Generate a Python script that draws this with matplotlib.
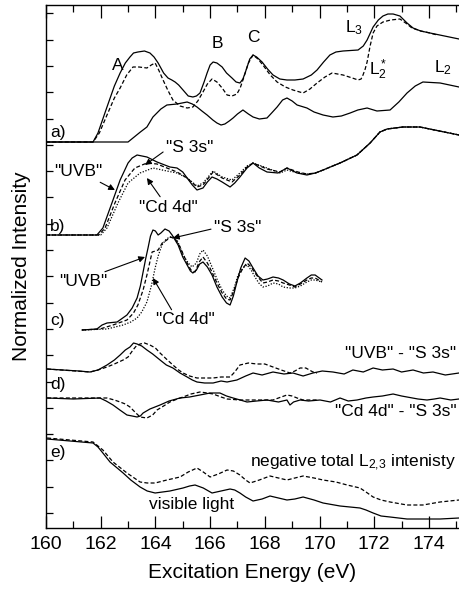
import numpy as np
import matplotlib
matplotlib.use('Agg')
import matplotlib.pyplot as plt

plt.rcParams['font.family'] = ['Liberation Sans', 'DejaVu Sans']
plt.rcParams['mathtext.fontset'] = 'custom'
plt.rcParams['mathtext.rm'] = 'Liberation Sans'
plt.rcParams['mathtext.it'] = 'Liberation Sans'

# a) L3 / L2* / L2 spectra
a_l3_x = [160.0, 161.72, 161.9, 162.23, 162.5, 162.71, 162.9, 163.07, 163.2, 163.36, 163.6, 163.80,
          163.95, 164.10, 164.3, 164.46, 164.6, 164.72, 164.85, 165.01, 165.2, 165.37, 165.5, 165.63,
          165.78, 165.89, 166.0, 166.11, 166.25, 166.44, 166.6, 166.80, 166.95, 167.09, 167.2, 167.28,
          167.45, 167.57, 167.7, 167.90, 168.1, 168.30, 168.55, 168.81, 169.1, 169.40, 169.7, 169.91,
          170.15, 170.38, 170.6, 170.86, 171.41, 171.6, 171.74, 171.96, 172.15, 172.32, 172.5, 172.69,
          172.94, 173.2, 173.42, 173.7, 174.04, 175.1]
a_l3_y = [386, 386, 395, 421, 442, 455, 465, 471, 475, 476, 477, 475,
          471, 465, 455, 450, 448, 446, 443, 438, 432, 431, 432, 435,
          446, 455, 463, 466, 465, 461, 455, 450, 446, 445, 449, 455,
          469, 473, 471, 466, 459, 453, 449, 448, 448, 449, 453, 458,
          466, 473, 476, 477, 478, 482, 488, 501, 508, 512, 514, 514,
          512, 505, 500, 497, 495, 489]

a_l2s_x = [160.0, 161.72, 161.95, 162.23, 162.5, 162.71, 162.95, 163.18, 163.4, 163.69, 163.85, 163.99,
           164.12, 164.28, 164.45, 164.64, 164.9, 165.16, 165.37, 165.55, 165.74, 165.9, 166.07, 166.25,
           166.44, 166.62, 166.8, 166.98, 167.1, 167.20, 167.4, 167.57, 167.75, 167.93, 168.2, 168.45,
           168.75, 169.03, 169.40, 169.65, 169.91, 170.2, 170.46, 170.86, 171.2, 171.41, 171.52, 171.59,
           171.67, 171.74, 171.85, 171.96, 172.1, 172.32, 172.6, 172.94, 173.15, 173.38, 173.7, 174.04, 174.30]
a_l2s_y = [386, 386, 395, 413, 430, 440, 453, 461, 461, 460, 463, 465,
           458, 448, 438, 428, 422, 420, 421, 427, 436, 444, 449, 446,
           440, 433, 432, 434, 440, 448, 465, 473, 469, 463, 453, 446,
           441, 438, 435, 439, 445, 451, 455, 453, 450, 448, 449, 453,
           459, 466, 482, 495, 502, 506, 508, 509, 505, 500, 497, 495, 493]

a_l2_x = [160.0, 163.0, 163.18, 163.45, 163.69, 163.91, 164.2, 164.42, 164.79, 165.16, 165.35, 165.52,
          165.7, 165.89, 166.1, 166.25, 166.4, 166.54, 166.7, 166.84, 167.0, 167.20, 167.4, 167.57,
          167.8, 168.08, 168.25, 168.45, 168.65, 168.81, 169.0, 169.18, 169.54, 169.8, 170.13, 170.49,
          170.8, 171.12, 171.4, 171.74, 172.1, 172.58, 172.9, 173.20, 173.5, 173.78, 174.41, 175.1]
a_l2_y = [386, 386, 390, 396, 401, 411, 419, 423, 424, 426, 424, 421,
          417, 413, 408, 405, 403, 404, 407, 410, 414, 418, 414, 411,
          409, 410, 415, 421, 428, 430, 427, 423, 420, 416, 413, 411,
          412, 415, 418, 420, 417, 418, 426, 435, 442, 446, 445, 441]

# b) UVB / S 3s / Cd 4d
b_tail_x = [170.13, 170.75, 171.37, 171.85, 172.21, 172.47, 173.05, 173.67, 175.1]
b_tail_y = [358, 365, 373, 385, 396, 399, 401, 401, 393]

b_uvb_x = [160.0, 161.86, 162.08, 162.41, 162.71, 163.00, 163.15, 163.33, 163.69, 164.06, 164.53, 164.79,
           165.0, 165.16, 165.35, 165.52, 165.74, 165.9, 166.07, 166.25, 166.44, 166.73, 166.9, 167.09,
           167.35, 167.57, 167.8, 168.08, 168.48, 168.81, 169.18, 169.54, 169.85] + b_tail_x
b_uvb_y = [293, 293, 300, 325, 348, 365, 370, 373, 371, 366, 361, 360,
           356, 350, 343, 338, 340, 346, 351, 349, 346, 341, 345, 351,
           360, 365, 360, 356, 355, 360, 355, 353, 355] + b_tail_y

b_s3s_x = [160.0, 161.93, 162.16, 162.52, 162.89, 163.25, 163.69, 164.06, 164.42, 164.79, 165.16, 165.52,
           165.74, 166.11, 166.44, 166.80, 167.09, 167.35, 167.57, 168.08, 168.56, 168.81, 169.21, 169.54,
           169.85] + b_tail_x
b_s3s_y = [293, 293, 300, 325, 348, 360, 365, 364, 360, 356, 350, 341,
           343, 356, 350, 346, 353, 361, 365, 359, 356, 360, 356, 354,
           355] + b_tail_y

b_cd_x = [160.0, 162.0, 162.23, 162.63, 163.00, 163.44, 163.91, 164.42, 164.79, 165.16, 165.52, 165.74,
          166.11, 166.44, 166.80, 167.09, 167.35, 167.57, 168.08, 168.56, 168.81, 169.21, 169.54,
          169.85] + b_tail_x
b_cd_y = [293, 293, 300, 325, 345, 355, 360, 357, 355, 350, 342, 345,
          357, 351, 348, 355, 362, 365, 360, 355, 358, 355, 354,
          355] + b_tail_y

# c) UVB / S 3s / Cd 4d (narrow range)
c_uvb_x = [161.32, 161.86, 162.05, 162.23, 162.60, 162.96, 163.15, 163.33, 163.45, 163.55, 163.65, 163.73,
           163.82, 163.91, 164.0, 164.10, 164.2, 164.35, 164.5, 164.61, 164.83, 165.0, 165.16, 165.28,
           165.37, 165.5, 165.62, 165.74, 165.9, 166.07, 166.25, 166.44, 166.6, 166.73, 166.85, 166.98,
           167.12, 167.28, 167.42, 167.57, 167.75, 167.93, 168.1, 168.30, 168.5, 168.67, 168.9, 169.10,
           169.3, 169.54, 169.7, 169.84, 170.09]
c_uvb_y = [198, 199, 203, 205, 206, 213, 220, 230, 242, 256, 270, 280,
           292, 298, 297, 293, 295, 299, 297, 293, 283, 271, 263, 257,
           255, 258, 264, 266, 261, 253, 241, 231, 225, 223, 232, 246,
           260, 270, 267, 260, 252, 248, 249, 251, 250, 248, 244, 242,
           245, 250, 253, 253, 248]

c_s3s_x = [161.32, 161.97, 162.45, 162.96, 163.2, 163.36, 163.55, 163.69, 163.88, 164.0, 164.10, 164.25,
           164.42, 164.55, 164.64, 164.75, 164.90, 165.16, 165.3, 165.45, 165.6, 165.74, 165.9, 166.07,
           166.25, 166.44, 166.6, 166.73, 166.88, 167.02, 167.2, 167.35, 167.5, 167.64, 167.78, 167.93,
           168.1, 168.30, 168.5, 168.67, 168.9, 169.10, 169.3, 169.54, 169.7, 169.84, 170.09]
c_s3s_y = [198, 199, 203, 208, 215, 223, 238, 253, 276, 277, 278, 285,
           288, 291, 290, 288, 281, 265, 258, 256, 266, 271, 265, 256,
           245, 235, 229, 228, 238, 250, 260, 265, 261, 255, 250, 245,
           246, 248, 247, 245, 243, 241, 244, 248, 250, 250, 246]

c_cd_x = [161.32, 162.23, 162.82, 163.1, 163.33, 163.5, 163.69, 163.85, 163.99, 164.1, 164.24, 164.4,
          164.53, 164.65, 164.79, 164.9, 165.01, 165.2, 165.34, 165.5, 165.62, 165.74, 165.9, 166.07,
          166.25, 166.44, 166.6, 166.73, 166.88, 167.02, 167.2, 167.35, 167.5, 167.64, 167.78, 167.93,
          168.1, 168.30, 168.5, 168.67, 168.9, 169.10, 169.3, 169.54, 169.7, 169.84, 170.09]
c_cd_y = [198, 199, 203, 206, 210, 216, 226, 242, 260, 272, 283, 289,
          291, 291, 288, 281, 273, 265, 261, 265, 274, 278, 272, 261,
          249, 238, 232, 230, 240, 253, 260, 263, 258, 251, 245, 241,
          242, 245, 244, 241, 240, 240, 242, 246, 248, 248, 246]

# d) difference spectra
d_uvb_x = [160.04, 160.6, 161.2, 161.61, 161.9, 162.23, 162.5, 162.71, 162.9, 163.07, 163.2, 163.33,
           163.5, 163.69, 163.9, 164.17, 164.4, 164.64, 164.9, 165.16, 165.35, 165.52, 165.8, 166.11,
           166.4, 166.62, 166.8, 166.98, 167.3, 167.57, 167.9, 168.30, 168.7, 169.03, 169.4, 169.76,
           170.1, 170.49, 170.9, 171.22, 171.6, 171.96, 172.3, 172.69, 173.0, 173.42, 173.8, 174.15,
           174.6, 175.1]
d_uvb_y = [159, 158, 157, 156, 158, 163, 168, 173, 178, 181, 185, 184,
           182, 178, 174, 168, 163, 160, 155, 151, 148, 146, 145, 145,
           147, 146, 147, 148, 152, 155, 153, 156, 154, 155, 152, 155,
           157, 156, 154, 158, 156, 160, 158, 159, 156, 158, 155, 156,
           153, 155]

d_uvb_s_x = [160.04, 161.61, 161.9, 162.23, 162.5, 162.82, 163.0, 163.18, 163.3, 163.44, 163.6, 163.80,
             164.0, 164.17, 164.4, 164.64, 164.85, 165.01, 165.25, 165.52, 165.8, 166.11, 166.4, 166.73,
             166.9, 167.09, 167.4, 167.71, 168.0, 168.30, 168.6, 168.92, 169.1, 169.29, 169.5, 169.76, 169.91]
d_uvb_s_y = [159, 156, 158, 161, 164, 168, 171, 178, 182, 184, 185, 183,
             180, 175, 169, 163, 158, 155, 152, 150, 150, 150, 151, 151,
             156, 163, 165, 164, 164, 161, 158, 155, 157, 160, 160, 156, 155]

d_cd_x = [160.04, 161.0, 161.97, 162.2, 162.45, 162.7, 162.96, 163.15, 163.33, 163.45, 163.55, 163.8,
          164.17, 164.5, 164.90, 165.25, 165.63, 166.0, 166.36, 166.6, 166.84, 167.1, 167.35, 167.7,
          168.08, 168.5, 168.81, 168.92, 169.05, 169.29, 169.6, 170.02, 170.4, 170.75, 171.05, 171.37,
          171.7, 171.96, 172.3, 172.69, 173.0, 173.20, 173.6, 173.93, 174.2, 174.41, 174.8, 175.1]
d_cd_y = [130, 129, 130, 127, 123, 118, 113, 112, 111, 112, 115, 119,
          123, 127, 130, 131, 133, 135, 135, 132, 130, 128, 126, 127,
          128, 126, 128, 123, 126, 128, 127, 128, 126, 130, 127, 128,
          130, 131, 132, 134, 132, 131, 129, 128, 129, 130, 128, 129]

d_cd_s_x = [160.04, 162.23, 162.5, 162.71, 162.9, 163.07, 163.25, 163.44, 163.69, 163.9, 164.06, 164.3,
            164.53, 164.8, 165.01, 165.3, 165.63, 165.9, 166.11, 166.4, 166.62, 167.09, 167.71, 168.30,
            168.6, 168.81, 169.0, 169.18, 169.4, 169.65, 169.91]
d_cd_s_y = [130, 130, 128, 126, 124, 121, 116, 111, 110, 113, 118, 122,
            126, 129, 131, 134, 136, 135, 134, 131, 129, 128, 128, 128,
            131, 133, 132, 130, 128, 128, 128]

# e) negative total L2,3 intensity / visible light
e_neg_x = [160.04, 161.72, 161.9, 162.08, 162.45, 162.96, 163.44, 163.7, 163.99, 164.42, 164.90, 165.2,
           165.52, 165.75, 166.00, 166.3, 166.62, 166.85, 167.09, 167.3, 167.46, 167.8, 168.19, 168.5,
           168.81, 169.1, 169.40, 169.8, 170.13, 170.6, 171.01, 171.48, 171.7, 171.96, 172.25, 172.58,
           173.20, 173.78, 174.41, 175.1]
e_neg_y = [90, 86, 82, 78, 66, 55, 46, 45, 45, 48, 51, 56,
           60, 56, 51, 54, 58, 57, 53, 48, 45, 48, 52, 50,
           48, 50, 52, 50, 48, 46, 43, 40, 36, 31, 28, 26,
           23, 23, 26, 28]

e_vis_x = [160.04, 161.72, 161.9, 162.05, 162.34, 162.82, 163.1, 163.44, 163.7, 163.99, 164.53, 165.01,
           165.25, 165.45, 165.75, 166.07, 166.4, 166.73, 166.9, 167.09, 167.3, 167.57, 167.9, 168.19,
           168.5, 168.81, 169.1, 169.40, 169.8, 170.13, 170.75, 171.48, 171.7, 171.96, 172.25, 172.58,
           173.20, 174.41, 175.1]
e_vis_y = [89, 85, 81, 76, 66, 55, 48, 41, 37, 35, 37, 40,
           42, 43, 40, 35, 37, 39, 38, 35, 31, 27, 29, 32,
           30, 28, 29, 31, 28, 25, 22, 20, 18, 15, 12, 11,
           9, 9, 10]

DASH = (0, (3.2, 1.8))
DOT = (0, (1, 1.3))

fig = plt.figure(figsize=(4.59, 5.89), dpi=100)
ax = fig.add_axes([46/459, 61/589, 1 - 46/459, 523/589])

lw = 0.9
ax.plot(a_l3_x, a_l3_y, 'k-', lw=lw)
ax.plot(a_l2s_x, a_l2s_y, 'k', ls=DASH, lw=lw)
ax.plot(a_l2_x, a_l2_y, 'k-', lw=lw)

ax.plot(b_uvb_x, b_uvb_y, 'k-', lw=lw)
ax.plot(b_s3s_x, b_s3s_y, 'k', ls=DASH, lw=lw)
ax.plot(b_cd_x, b_cd_y, 'k', ls=DOT, lw=lw)

ax.plot(c_uvb_x, c_uvb_y, 'k-', lw=lw)
ax.plot(c_s3s_x, c_s3s_y, 'k', ls=DASH, lw=lw)
ax.plot(c_cd_x, c_cd_y, 'k', ls=DOT, lw=lw)

ax.plot(d_uvb_x, d_uvb_y, 'k-', lw=lw)
ax.plot(d_uvb_s_x, d_uvb_s_y, 'k', ls=DASH, lw=lw)
ax.plot(d_cd_x, d_cd_y, 'k-', lw=lw)
ax.plot(d_cd_s_x, d_cd_s_y, 'k', ls=DASH, lw=lw)

ax.plot(e_neg_x, e_neg_y, 'k', ls=DASH, lw=lw)
ax.plot(e_vis_x, e_vis_y, 'k-', lw=lw)

ax.set_xlim(160, 175.1)
ax.set_ylim(0, 523)
ax.set_xticks(np.arange(160, 175.1, 2))
ax.set_xticks(np.arange(161, 175.1, 2), minor=True)
ax.set_yticks(np.arange(15, 520, 26.3))
ax.set_yticklabels([])
ax.tick_params(axis='x', which='both', direction='in', top=True, labelsize=14, pad=6)
ax.tick_params(axis='x', which='major', length=9, width=0.9)
ax.tick_params(axis='x', which='minor', length=5, width=0.9)
ax.tick_params(axis='y', direction='in', length=5, width=0.9, right=False)
ax.spines['right'].set_visible(False)
for s in ['left', 'top', 'bottom']:
    ax.spines[s].set_linewidth(1.0)

ax.set_xlabel('Excitation Energy (eV)', fontsize=15, labelpad=7)
ax.set_ylabel('Normalized Intensity', fontsize=15, labelpad=7)

fs = 12.5
# panel labels
for lab, yy in [('a)', 396), ('b)', 301), ('c)', 208), ('d)', 143), ('e)', 75)]:
    ax.text(160.15, yy, lab, fontsize=fs, ha='left', va='center')

ax.text(162.63, 463, 'A', fontsize=fs, ha='center', va='center')
ax.text(166.25, 485, 'B', fontsize=fs, ha='center', va='center')
ax.text(167.57, 490, 'C', fontsize=fs, ha='center', va='center')
ax.text(171.25, 500, r'L$_3$', fontsize=fs, ha='center', va='center')
ax.text(172.15, 458, r'L$_2^*$', fontsize=fs, ha='center', va='center')
ax.text(174.5, 460, r'L$_2$', fontsize=fs, ha='center', va='center')

arr = dict(arrowstyle='-|>', lw=0.8, color='k', mutation_scale=9, shrinkA=0, shrinkB=0)
ax.annotate('"S 3s"', xy=(163.62, 363), xytext=(165.25, 381), fontsize=fs, ha='center', va='center',
            arrowprops=dict(arr, relpos=(0.0, 0.3)))
ax.annotate('"UVB"', xy=(162.52, 338), xytext=(161.17, 356), fontsize=fs, ha='center', va='center',
            arrowprops=dict(arr, relpos=(0.85, 0.0)))
ax.annotate('"Cd 4d"', xy=(163.69, 350), xytext=(164.46, 321), fontsize=fs, ha='center', va='center',
            arrowprops=dict(arr, relpos=(0.4, 1.0)))

ax.annotate('"S 3s"', xy=(164.64, 290), xytext=(167.0, 301), fontsize=fs, ha='center', va='center',
            arrowprops=dict(arr, relpos=(0.0, 0.4)))
ax.annotate('"UVB"', xy=(163.62, 271), xytext=(161.35, 246), fontsize=fs, ha='center', va='center',
            arrowprops=dict(arr, relpos=(0.8, 1.0)))
ax.annotate('"Cd 4d"', xy=(163.91, 250), xytext=(165.08, 208), fontsize=fs, ha='center', va='center',
            arrowprops=dict(arr, relpos=(0.3, 1.0)))

ax.text(175.0, 175, '"UVB" - "S 3s"', fontsize=fs, ha='right', va='center')
ax.text(175.0, 116, '"Cd 4d" - "S 3s"', fontsize=fs, ha='right', va='center')
ax.text(175.0, 65, r'negative total L$_{2{,}3}$ intenisty', fontsize=fs, ha='right', va='center')
ax.text(165.34, 23, 'visible light', fontsize=fs, ha='center', va='center')

fig.savefig('out.png', dpi=100)
